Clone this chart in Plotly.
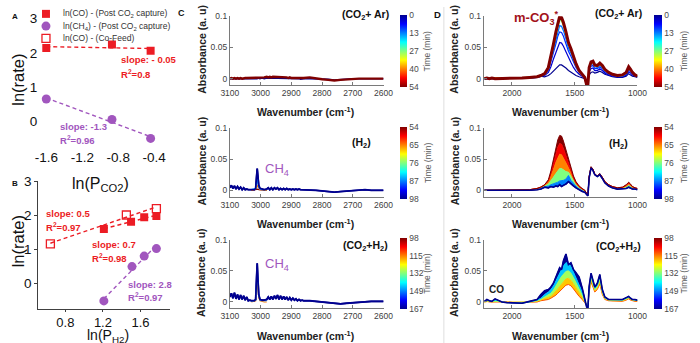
import numpy as np
import plotly.graph_objects as go
from plotly.colors import sample_colorscale

FONT = "Liberation Sans, Arial, Helvetica, sans-serif"
W, H = 700, 343
RED = "#ec1c24"
PURPLE = "#a156be"
AXC = "#7a7a7a"

# ---------------- Panel A / B data ----------------
A_X_CO = [-1.6, -0.87, -0.44]
A_Y_CO = [2.15, 2.25, 2.07]
A_X_CH4 = [-1.6, -0.87, -0.44]
A_Y_CH4 = [0.66, 0.06, -0.49]
A_XTICKS = [-1.6, -1.2, -0.8, -0.4]
A_XTICKTEXT = ["-1.6", "-1.2", "-0.8", "-0.4"]

B_X_CO = [1.21, 1.50, 1.64, 1.77]
B_Y_CO = [1.60, 1.81, 1.94, 1.98]
B_X_COFEED = [0.64, 1.45, 1.77]
B_Y_COFEED = [1.16, 2.01, 2.20]
B_X_CH4 = [1.21, 1.51, 1.64, 1.77]
B_Y_CH4 = [-0.52, 0.49, 0.80, 1.02]
B_XTICKS = [0.8, 1.2, 1.6]
RATE_TICKS = [0, 1, 2, 3]

# ---------------- Panel C data (3100-2600 cm-1) ----------------
W_C = [3100, 3095, 3090, 3085, 3080, 3075, 3070, 3065, 3060, 3055, 3050, 3045, 3040, 3035, 3030, 3025, 3020,
       3016, 3013, 3011, 3009, 3006, 3002, 2996, 2988, 2980,
       2975, 2970, 2965, 2960, 2955, 2950, 2945, 2940, 2935, 2930, 2925, 2920, 2915, 2910, 2905, 2900,
       2895, 2890, 2885, 2880, 2875, 2870, 2865, 2860,
       2840, 2820, 2800, 2780, 2760, 2740, 2720, 2700, 2680, 2660, 2640, 2620, 2600]
W_CP = [3030, 3020, 3016, 3013, 3011, 3009, 3006, 3002, 2996, 2988, 2980]

# (CO2 + Ar), t = 0 and 54 min
CT_0 = [0.000, 0.000, -0.001, 0.000, 0.000, -0.001, 0.000, 0.000, -0.001, 0.000, 0.000, 0.000, -0.001, 0.000, 0.000, 0.000, 0.000,
        0.000, 0.000, 0.000, 0.001, 0.000, 0.000, 0.001, 0.000, 0.001,
        0.001, 0.001, 0.000, 0.001, 0.001, 0.000, 0.001, 0.001, 0.000, 0.001, 0.000, 0.001, 0.000, 0.000, 0.001, 0.000,
        0.000, 0.000, 0.000, 0.000, 0.000, -0.001, 0.000, 0.000,
        0.000, 0.000, -0.001, -0.001, -0.002, -0.001, -0.001, 0.000, 0.000, 0.000, -0.001, 0.000, 0.000]
CT_54 = [0.000, 0.001, 0.000, 0.001, 0.000, 0.001, 0.000, 0.001, 0.000, 0.001, 0.001, 0.001, 0.001, 0.001, 0.001, 0.001, 0.002,
         0.001, 0.002, 0.001, 0.002, 0.002, 0.002, 0.002, 0.002, 0.003,
         0.002, 0.003, 0.002, 0.003, 0.003, 0.002, 0.003, 0.002, 0.003, 0.002, 0.002, 0.002, 0.002, 0.001, 0.002, 0.001,
         0.001, 0.001, 0.001, 0.001, 0.001, 0.000, 0.001, 0.001,
         0.002, 0.000, -0.001, -0.002, -0.003, -0.002, -0.001, 0.000, 0.000, 0.000, 0.000, 0.000, 0.000]

# (H2), t = 98 min full range, earlier times around the CH4 band
CM_98 = [0.004, 0.008, 0.003, 0.007, 0.002, 0.006, 0.002, 0.005, 0.001, 0.004, 0.001, 0.002, 0.001, 0.001, 0.001, 0.001, 0.001,
         0.003, 0.020, 0.035, 0.024, 0.008, 0.003, 0.002, 0.001, 0.002,
         0.004, 0.001, 0.004, 0.001, 0.004, 0.002, 0.004, 0.001, 0.003, 0.001, 0.003, 0.001, 0.003, 0.001, 0.002, 0.001,
         0.002, 0.001, 0.002, 0.001, 0.002, 0.001, 0.001, 0.001,
         0.001, 0.000, -0.001, -0.002, -0.003, -0.002, -0.001, 0.000, 0.000, 0.001, 0.000, 0.000, 0.000]
CM_54 = [0.000, 0.001, 0.001, 0.002, 0.002, 0.002, 0.001, 0.001, 0.000, 0.000, 0.000]
CM_65 = [0.000, 0.001, 0.002, 0.005, 0.008, 0.006, 0.003, 0.001, 0.001, 0.000, 0.000]
CM_87 = [0.001, 0.002, 0.003, 0.012, 0.020, 0.014, 0.005, 0.002, 0.001, 0.001, 0.001]

# (CO2 + H2), t = 167 min full range, earlier times around the CH4 band
CB_167 = [0.008, 0.014, 0.006, 0.015, 0.005, 0.012, 0.004, 0.011, 0.004, 0.010, 0.003, 0.008, 0.002, 0.003, 0.002, 0.002, 0.002,
          0.004, 0.035, 0.062, 0.040, 0.012, 0.004, 0.003, 0.003, 0.004,
          0.008, 0.004, 0.009, 0.004, 0.010, 0.005, 0.011, 0.004, 0.010, 0.004, 0.009, 0.004, 0.008, 0.003, 0.007, 0.003,
          0.006, 0.003, 0.005, 0.002, 0.004, 0.002, 0.003, 0.002,
          0.002, 0.001, 0.000, -0.002, -0.003, -0.003, -0.002, -0.001, 0.000, 0.001, 0.001, 0.001, 0.001]
CB_115 = [0.000, 0.001, 0.002, 0.020, 0.040, 0.026, 0.007, 0.002, 0.001, 0.000, 0.000]
CB_149 = [0.001, 0.002, 0.003, 0.028, 0.053, 0.035, 0.010, 0.003, 0.002, 0.002, 0.002]

C_XTICKS = [3100, 3000, 2900, 2800, 2700, 2600]

# ---------------- Panel D data (2225-1000 cm-1) ----------------
W_D = [2220, 2200, 2180, 2160, 2135, 2110, 2080, 2040, 1980, 1920, 1860,
       1800, 1770, 1740, 1710, 1690, 1670, 1650, 1635, 1620, 1605, 1590, 1570, 1550, 1530, 1510, 1490, 1465, 1440, 1420,
       1405, 1395, 1385, 1370, 1355, 1340, 1320, 1300, 1280, 1260, 1230, 1200, 1160, 1120, 1090, 1070, 1055, 1040, 1020, 1000]

# (CO2 + Ar): times 0, 4, 9, 13, 27, 40, 54 min
DT_0 = [0.000, 0.000, 0.000, 0.000, 0.000, 0.000, 0.000, 0.000, 0.000, 0.000, 0.001,
        0.002, 0.004, 0.003, 0.005, 0.008, 0.012, 0.017, 0.020, 0.022, 0.022, 0.020, 0.017, 0.013, 0.010, 0.007, 0.005, 0.003, 0.002, 0.000,
        -0.003, -0.002, 0.006, 0.010, 0.011, 0.009, 0.010, 0.012, 0.010, 0.007, 0.005, 0.003, 0.002, 0.002, 0.004, 0.008, 0.006, 0.004, 0.003, 0.002]
DT_4 = [0.000, 0.000, 0.000, 0.000, 0.000, 0.000, 0.000, 0.000, 0.000, 0.000, 0.001,
        0.002, 0.004, 0.005, 0.010, 0.019, 0.031, 0.043, 0.052, 0.058, 0.057, 0.052, 0.043, 0.033, 0.026, 0.018, 0.012, 0.007, 0.003, 0.001,
        -0.006, -0.004, 0.011, 0.016, 0.017, 0.013, 0.013, 0.016, 0.013, 0.009, 0.006, 0.004, 0.003, 0.003, 0.006, 0.011, 0.009, 0.006, 0.004, 0.003]
DT_9 = [0.000, 0.000, 0.000, 0.000, 0.000, 0.000, 0.000, 0.000, 0.000, 0.001, 0.001,
        0.002, 0.004, 0.006, 0.013, 0.026, 0.041, 0.056, 0.068, 0.075, 0.074, 0.068, 0.056, 0.044, 0.036, 0.026, 0.018, 0.010, 0.005, 0.001,
        -0.007, -0.006, 0.013, 0.020, 0.021, 0.016, 0.016, 0.019, 0.016, 0.011, 0.008, 0.005, 0.004, 0.004, 0.007, 0.014, 0.011, 0.008, 0.005, 0.003]
DT_13 = [0.000, 0.001, 0.000, 0.000, 0.000, 0.000, 0.000, 0.000, 0.000, 0.001, 0.001,
         0.003, 0.004, 0.007, 0.015, 0.030, 0.047, 0.064, 0.077, 0.085, 0.084, 0.077, 0.064, 0.049, 0.041, 0.030, 0.020, 0.011, 0.005, 0.002,
         -0.008, -0.007, 0.015, 0.023, 0.024, 0.019, 0.018, 0.021, 0.018, 0.013, 0.009, 0.006, 0.004, 0.005, 0.008, 0.016, 0.013, 0.009, 0.005, 0.003]
DT_27 = [0.000, 0.001, 0.000, 0.000, 0.001, 0.000, 0.000, 0.001, 0.000, 0.001, 0.002,
         0.003, 0.005, 0.008, 0.017, 0.033, 0.052, 0.070, 0.085, 0.094, 0.092, 0.085, 0.071, 0.055, 0.045, 0.033, 0.023, 0.012, 0.006, 0.002,
         -0.009, -0.008, 0.017, 0.025, 0.026, 0.021, 0.020, 0.023, 0.020, 0.014, 0.010, 0.007, 0.005, 0.005, 0.009, 0.018, 0.014, 0.009, 0.006, 0.004]
DT_40 = [0.001, 0.001, 0.000, 0.001, 0.000, 0.001, 0.000, 0.001, 0.001, 0.001, 0.002,
         0.003, 0.005, 0.008, 0.017, 0.034, 0.054, 0.073, 0.088, 0.098, 0.096, 0.088, 0.073, 0.057, 0.047, 0.034, 0.023, 0.012, 0.006, 0.002,
         -0.010, -0.008, 0.017, 0.026, 0.027, 0.021, 0.020, 0.024, 0.020, 0.014, 0.010, 0.007, 0.005, 0.006, 0.010, 0.018, 0.014, 0.010, 0.006, 0.004]
DT_54 = [0.000, 0.001, 0.000, 0.001, 0.000, 0.000, 0.001, 0.001, 0.000, 0.001, 0.002,
         0.003, 0.005, 0.008, 0.018, 0.035, 0.055, 0.075, 0.090, 0.100, 0.098, 0.090, 0.075, 0.058, 0.048, 0.035, 0.024, 0.013, 0.006, 0.002,
         -0.010, -0.009, 0.018, 0.027, 0.028, 0.022, 0.021, 0.025, 0.021, 0.015, 0.010, 0.007, 0.005, 0.006, 0.010, 0.019, 0.015, 0.010, 0.006, 0.004]

# (H2): times 98, 87, 76, 65, 59, 54 min
DM_98 = [0.000, 0.000, 0.000, 0.000, 0.000, 0.000, 0.000, 0.000, -0.001, 0.000, 0.000,
         0.001, 0.002, 0.005, 0.004, 0.006, 0.005, 0.007, 0.006, 0.009, 0.006, 0.008, 0.010, 0.014, 0.010, 0.007, 0.004, 0.001, -0.002, -0.003,
         -0.006, -0.009, 0.020, 0.036, 0.032, 0.025, 0.022, 0.025, 0.019, 0.012, 0.007, 0.004, 0.002, 0.002, 0.003, 0.005, 0.004, 0.002, 0.002, 0.001]
DM_87 = [0.000, 0.000, 0.000, 0.000, 0.000, 0.000, 0.000, 0.000, 0.000, 0.000, 0.001,
         0.002, 0.003, 0.006, 0.007, 0.009, 0.010, 0.012, 0.013, 0.015, 0.015, 0.016, 0.018, 0.024, 0.016, 0.011, 0.007, 0.003, 0.000, -0.002,
         -0.006, -0.008, 0.021, 0.036, 0.033, 0.025, 0.022, 0.025, 0.020, 0.013, 0.008, 0.005, 0.003, 0.003, 0.004, 0.006, 0.005, 0.003, 0.002, 0.002]
DM_76 = [0.000, 0.000, 0.000, 0.000, 0.000, 0.000, 0.000, 0.000, 0.000, 0.001, 0.001,
         0.002, 0.004, 0.007, 0.010, 0.015, 0.021, 0.027, 0.032, 0.035, 0.035, 0.033, 0.030, 0.029, 0.022, 0.015, 0.009, 0.004, 0.001, -0.001,
         -0.006, -0.008, 0.021, 0.037, 0.033, 0.025, 0.022, 0.025, 0.020, 0.013, 0.008, 0.005, 0.003, 0.003, 0.005, 0.008, 0.006, 0.004, 0.003, 0.002]
DM_65 = [0.000, 0.000, 0.000, 0.000, 0.000, 0.000, 0.000, 0.000, 0.000, 0.001, 0.001,
         0.003, 0.005, 0.008, 0.013, 0.022, 0.033, 0.045, 0.053, 0.058, 0.057, 0.052, 0.044, 0.036, 0.027, 0.018, 0.011, 0.005, 0.002, 0.000,
         -0.005, -0.007, 0.022, 0.037, 0.034, 0.026, 0.023, 0.026, 0.021, 0.014, 0.009, 0.006, 0.004, 0.004, 0.007, 0.010, 0.008, 0.005, 0.003, 0.002]
DM_59 = [0.000, 0.000, 0.000, 0.000, 0.000, 0.000, 0.000, 0.000, 0.000, 0.001, 0.001,
         0.003, 0.005, 0.009, 0.015, 0.027, 0.042, 0.058, 0.069, 0.075, 0.074, 0.067, 0.055, 0.043, 0.031, 0.020, 0.012, 0.006, 0.002, 0.000,
         -0.005, -0.007, 0.022, 0.037, 0.034, 0.026, 0.023, 0.026, 0.021, 0.014, 0.009, 0.006, 0.004, 0.005, 0.008, 0.012, 0.009, 0.006, 0.004, 0.003]
DM_54 = [0.000, 0.000, 0.000, 0.000, 0.000, 0.001, 0.000, 0.000, 0.000, 0.001, 0.001,
         0.003, 0.005, 0.009, 0.017, 0.031, 0.049, 0.068, 0.081, 0.088, 0.087, 0.079, 0.064, 0.049, 0.035, 0.023, 0.014, 0.007, 0.003, 0.000,
         -0.005, -0.007, 0.022, 0.038, 0.034, 0.026, 0.023, 0.027, 0.021, 0.014, 0.009, 0.006, 0.004, 0.005, 0.009, 0.013, 0.010, 0.006, 0.004, 0.003]

# (CO2 + H2): times 112, 120, 130, 145, 167 min
DB_112 = [0.000, 0.001, 0.000, 0.000, 0.001, 0.000, 0.000, 0.000, -0.001, -0.001, -0.001,
          0.000, 0.002, 0.003, 0.004, 0.006, 0.008, 0.011, 0.014, 0.017, 0.020, 0.024, 0.027, 0.028, 0.026, 0.021, 0.015, 0.009, 0.004, -0.001,
          -0.006, -0.008, 0.016, 0.032, 0.024, 0.016, 0.020, 0.029, 0.012, 0.004, 0.002, 0.002, 0.001, 0.001, 0.003, 0.005, 0.003, 0.002, 0.001, 0.001]
DB_120 = [0.000, 0.001, 0.001, 0.000, 0.001, 0.001, 0.000, 0.000, -0.001, -0.001, 0.000,
          0.001, 0.003, 0.005, 0.007, 0.009, 0.013, 0.017, 0.021, 0.025, 0.029, 0.033, 0.037, 0.038, 0.035, 0.029, 0.022, 0.015, 0.007, 0.000,
          -0.006, -0.008, 0.018, 0.035, 0.027, 0.018, 0.022, 0.032, 0.014, 0.005, 0.003, 0.002, 0.002, 0.002, 0.004, 0.006, 0.004, 0.003, 0.002, 0.002]
DB_130 = [0.000, 0.002, 0.001, 0.001, 0.002, 0.001, 0.000, -0.001, -0.001, -0.001, 0.000,
          0.002, 0.004, 0.008, 0.011, 0.014, 0.019, 0.025, 0.031, 0.036, 0.041, 0.045, 0.049, 0.050, 0.046, 0.039, 0.031, 0.022, 0.011, 0.001,
          -0.006, -0.008, 0.020, 0.038, 0.029, 0.020, 0.025, 0.036, 0.016, 0.006, 0.003, 0.003, 0.003, 0.003, 0.005, 0.007, 0.005, 0.003, 0.003, 0.002]
DB_145 = [0.001, 0.003, 0.002, 0.001, 0.004, 0.002, 0.000, -0.001, -0.002, -0.002, 0.000,
          0.003, 0.006, 0.012, 0.016, 0.020, 0.026, 0.034, 0.041, 0.048, 0.053, 0.058, 0.063, 0.062, 0.057, 0.048, 0.040, 0.030, 0.016, 0.002,
          -0.007, -0.009, 0.022, 0.042, 0.032, 0.022, 0.027, 0.040, 0.018, 0.007, 0.004, 0.004, 0.003, 0.003, 0.006, 0.008, 0.006, 0.004, 0.003, 0.003]
DB_167 = [0.001, 0.004, 0.002, 0.001, 0.005, 0.003, 0.000, -0.001, -0.002, -0.002, 0.001,
          0.004, 0.012, 0.018, 0.020, 0.024, 0.030, 0.040, 0.048, 0.055, 0.052, 0.066, 0.077, 0.060, 0.063, 0.052, 0.047, 0.040, 0.022, 0.002,
          -0.008, -0.010, 0.025, 0.046, 0.035, 0.024, 0.030, 0.044, 0.020, 0.008, 0.004, 0.004, 0.004, 0.004, 0.007, 0.009, 0.006, 0.004, 0.004, 0.003]

D_XTICKS = [2000, 1500, 1000]
ABS_TICKS = [0, 0.05, 0.1]
ABS_TICKTEXT = ["0", "0.05", "0.1"]

CB_TOP_TEXT = ["54", "40", "27", "13", "0"]        # bottom -> top
CB_MID_TEXT = ["98", "87", "76", "65", "54"]
CB_BOT_TEXT = ["167", "149", "132", "115", "98"]

for arr in [CT_0, CT_54, CM_98, CB_167]:
    assert len(arr) == len(W_C), len(arr)
for arr in [CM_54, CM_65, CM_87, CB_115, CB_149]:
    assert len(arr) == len(W_CP)
for arr in [DT_0, DT_4, DT_9, DT_13, DT_27, DT_40, DT_54, DM_98, DM_87, DM_76, DM_65, DM_59, DM_54,
            DB_112, DB_120, DB_130, DB_145, DB_167]:
    assert len(arr) == len(W_D), len(arr)

# ---------------- helpers ----------------
JET = [[0, "rgb(0,0,143)"], [0.125, "rgb(0,0,255)"], [0.375, "rgb(0,255,255)"],
       [0.625, "rgb(255,255,0)"], [0.875, "rgb(255,0,0)"], [1, "rgb(128,0,0)"]]
JET_R = [[round(1 - p, 4), c] for p, c in reversed(JET)]


def jet(pos):
    return sample_colorscale(JET, [min(max(pos, 0), 1)])[0]


def fx(px):
    return px / W


def fy(py):
    return 1 - py / H


fig = go.Figure()


def line_trace(xs, ys, ax, color, width, fill=None, dash=None):
    fig.add_trace(go.Scatter(
        x=xs, y=ys, mode="lines", xaxis="x" + ax, yaxis="y" + ax,
        line=dict(color=color, width=width, dash=dash),
        fill=fill, fillcolor=color if fill else None,
        showlegend=False, hoverinfo="skip"))


def marker_trace(xs, ys, ax, symbol, color, size, open_=False):
    fig.add_trace(go.Scatter(
        x=xs, y=ys, mode="markers", xaxis="x" + ax, yaxis="y" + ax,
        marker=dict(symbol=symbol, size=size, color=color,
                    line=dict(color=color, width=1.3 if open_ else 0)),
        showlegend=False, hoverinfo="skip"))


def fit_line(xs, ys, ax, color):
    k, b = np.polyfit(xs, ys, 1)
    x0, x1 = min(xs), max(xs)
    line_trace([x0, x1], [k * x0 + b, k * x1 + b], ax, color, 1.4, dash="4px,3px")


# ---------------- Panel A ----------------
fit_line(A_X_CO, A_Y_CO, "", RED)
fit_line(A_X_CH4, A_Y_CH4, "", PURPLE)
marker_trace(A_X_CO, A_Y_CO, "", "square", RED, 8)
marker_trace(A_X_CH4, A_Y_CH4, "", "circle", PURPLE, 9)

# ---------------- Panel B ----------------
fit_line(B_X_COFEED, B_Y_COFEED, "2", RED)
fit_line(B_X_CO, B_Y_CO, "2", RED)
fit_line(B_X_CH4, B_Y_CH4, "2", PURPLE)
marker_trace(B_X_COFEED, B_Y_COFEED, "2", "square-open", RED, 8, open_=True)
marker_trace(B_X_CO, B_Y_CO, "2", "square", RED, 8)
marker_trace(B_X_CH4, B_Y_CH4, "2", "circle", PURPLE, 9)

# legend markers on a pixel overlay axis
marker_trace([38], [7], "9", "square", RED, 8)
marker_trace([38], [19.5], "9", "circle", PURPLE, 9)
marker_trace([38], [32], "9", "square-open", RED, 8, open_=True)

# ---------------- Panel C ----------------
line_trace(W_C, CT_0, "3", jet(0), 1.5)
line_trace(W_C, CT_54, "3", jet(1), 2.4)

line_trace(W_C, CM_98, "4", jet(0), 1.8)
for ys, t in [(CM_54, 54), (CM_65, 65), (CM_87, 87)]:
    line_trace(W_CP, ys, "4", jet((98 - t) / 44), 1.2)
line_trace(W_C, CM_98, "4", jet(0), 1.6)

line_trace(W_C, CB_167, "5", jet(0), 1.8)
for ys, t in [(CB_115, 115), (CB_149, 149)]:
    line_trace(W_CP, ys, "5", jet((167 - t) / 69), 1.2)
line_trace(W_C, CB_167, "5", jet(0), 1.6)

# ---------------- Panel D ----------------
for ys, t, wd in [(DT_0, 0, 1.2), (DT_4, 4, 1.2), (DT_9, 9, 1.2), (DT_13, 13, 1.3),
                  (DT_27, 27, 1.3), (DT_40, 40, 2.0), (DT_54, 54, 3.0)]:
    line_trace(W_D, ys, "6", jet(t / 54), wd)

line_trace(W_D, DM_98, "7", jet(0), 1.2)
for ys, t in [(DM_87, 87), (DM_76, 76), (DM_65, 65), (DM_59, 59), (DM_54, 54)]:
    line_trace(W_D, ys, "7", jet((98 - t) / 44), 1.0, fill="tonexty")
line_trace(W_D, DM_98, "7", jet(0), 1.6)

line_trace(W_D, DB_112, "8", jet((167 - 112) / 69), 1.0)
for ys, t in [(DB_120, 120), (DB_130, 130), (DB_145, 145), (DB_167, 167)]:
    line_trace(W_D, ys, "8", jet((167 - t) / 69), 1.0, fill="tonexty")
line_trace(W_D, DB_167, "8", jet(0), 1.6)

# ---------------- colorbars ----------------
def colorbar(px_x, py_c, plen, thick, texts, scale):
    fig.add_trace(go.Scatter(
        x=[-100], y=[-100], mode="markers", xaxis="x9", yaxis="y9",
        marker=dict(color=[0], cmin=0, cmax=1, colorscale=scale, showscale=True, size=1,
                    colorbar=dict(x=fx(px_x), xanchor="left", xpad=0, y=fy(py_c), yanchor="middle",
                                  ypad=0, len=plen, lenmode="pixels", thickness=thick,
                                  thicknessmode="pixels", outlinewidth=0, ticks="",
                                  tickvals=[0, 0.25, 0.5, 0.75, 1], ticktext=texts,
                                  tickfont=dict(size=8.5, color="#4a4a4a", family=FONT))),
        showlegend=False, hoverinfo="skip"))


for px_x, thick in [(402, 7), (663, 8)]:
    colorbar(px_x, 45, 72, thick, CB_TOP_TEXT, JET_R)
    colorbar(px_x, 159, 72, thick, CB_MID_TEXT, JET)
    colorbar(px_x, 272, 71, thick, CB_BOT_TEXT, JET)

# ---------------- axes ----------------
layout = dict(width=W, height=H, margin=dict(l=0, r=0, t=0, b=0),
              paper_bgcolor="white", plot_bgcolor="rgba(0,0,0,0)", showlegend=False,
              font=dict(family=FONT, color="#222"))

rate_y = dict(range=[-0.75, 3], tickvals=RATE_TICKS, showgrid=False, zeroline=False,
              tickfont=dict(size=13.5, color="#111", family=FONT))
layout["xaxis"] = dict(domain=[fx(30), fx(165)], range=[-1.69, -0.23], tickvals=A_XTICKS,
                       ticktext=A_XTICKTEXT, showgrid=False, zeroline=False, showline=False,
                       ticks="", tickfont=dict(size=13.5, color="#111", family=FONT), anchor="y")
layout["yaxis"] = dict(domain=[fy(143.25), fy(12)], showline=False, ticks="", anchor="x", **rate_y)
layout["xaxis2"] = dict(domain=[fx(30), fx(165)], range=[0.51, 1.91], tickvals=B_XTICKS,
                        ticktext=["0.8", "1.2", "1.6"], showgrid=False, zeroline=False,
                        showline=True, linecolor="#404040", linewidth=1, ticks="outside",
                        ticklen=2, tickcolor="#404040",
                        tickfont=dict(size=13, color="#111", family=FONT), anchor="y2")
layout["yaxis2"] = dict(domain=[fy(308), fy(178)], showline=True, linecolor="#404040",
                        linewidth=1, ticks="outside", ticklen=3, tickcolor="#404040",
                        anchor="x2", **rate_y)

spec_tick = dict(size=8.5, color="#404040", family=FONT)
rows = [(9.5, 79.5), (123.5, 193.5), (237.5, 307.5)]
for i, (top, bot) in enumerate(rows):
    cx, dx = str(3 + i), str(6 + i)
    layout["xaxis" + cx] = dict(domain=[fx(227), fx(385)], range=[3100, 2600], tickvals=C_XTICKS,
                               ticktext=[str(v) for v in C_XTICKS], anchor="y" + cx)
    layout["xaxis" + dx] = dict(domain=[fx(488), fx(646)], range=[2225, 1000], tickvals=D_XTICKS,
                               ticktext=[str(v) for v in D_XTICKS], anchor="y" + dx)
    for a in (cx, dx):
        layout["xaxis" + a].update(showgrid=False, zeroline=False, showline=True, linecolor=AXC,
                                  linewidth=1, ticks="inside", ticklen=3, tickcolor=AXC,
                                  tickfont=spec_tick)
        layout["yaxis" + a] = dict(domain=[fy(bot), fy(top)], range=[-0.01, 0.1],
                                  tickvals=ABS_TICKS, ticktext=ABS_TICKTEXT, showgrid=False,
                                  zeroline=False, showline=True, linecolor=AXC, linewidth=1,
                                  ticks="inside", ticklen=3, tickcolor=AXC, tickfont=spec_tick,
                                  anchor="x" + a)

layout["xaxis9"] = dict(domain=[0, 1], range=[0, W], visible=False, anchor="y9", fixedrange=True)
layout["yaxis9"] = dict(domain=[0, 1], range=[H, 0], visible=False, anchor="x9", fixedrange=True)
fig.update_layout(**layout)

# ---------------- text ----------------
def ann(text, x, y, size, color="#111", bold=False, xanchor="center", angle=0):
    if bold:
        text = "<b>" + text + "</b>"
    fig.add_annotation(text=text, x=fx(x), y=fy(y), xref="paper", yref="paper", showarrow=False,
                       font=dict(size=size, color=color, family=FONT), xanchor=xanchor,
                       yanchor="middle", textangle=angle)


ann("A", 6, 10, 8, bold=True)
ann("B", 6, 180, 8, bold=True)
ann("C", 177, 6, 9, bold=True)
ann("D", 440, 8, 9.5, bold=True)

ann("ln(CO) - (Post CO<sub>2</sub> capture)", 53, 7, 8.5, "#333", xanchor="left")
ann("ln(CH<sub>4</sub>) - (Post CO<sub>2</sub> capture)", 53, 19.5, 8.5, "#333", xanchor="left")
ann("ln(CO) - (Co-Feed)", 53, 32, 8.5, "#333", xanchor="left")

ann("slope: - 0.05", 113, 54, 9.5, RED, True, "left")
ann("R<sup>2</sup>=0.8", 113, 68, 9.5, RED, True, "left")
ann("slope: -1.3", 50, 122, 9.5, PURPLE, True, "left")
ann("R<sup>2</sup>=0.96", 50, 136, 9.5, PURPLE, True, "left")
ann("ln(rate)", 9.5, 74, 16.5, angle=-90)
ann("ln(P<sub>CO2</sub>)", 94, 181, 16)

ann("slope: 0.5", 36, 211, 9.5, RED, True, "left")
ann("R<sup>2</sup>=0.97", 36, 225, 9.5, RED, True, "left")
ann("slope: 0.7", 83, 242, 9.5, RED, True, "left")
ann("R<sup>2</sup>=0.98", 83, 256, 9.5, RED, True, "left")
ann("slope: 2.8", 120, 283, 9.5, PURPLE, True, "left")
ann("R<sup>2</sup>=0.97", 120, 296, 9.5, PURPLE, True, "left")
ann("ln(rate)", 9.5, 239, 16.5, angle=-90)
ann("ln(P<sub>H2</sub>)", 102, 335.5, 14)

for yc, yw in [(43, 107), (157, 221), (271, 335)]:
    ann("Absorbance (a. u)", 198, yc, 10.5, "#222", True, angle=-90)
    ann("Absorbance (a. u)", 458, yc, 10.5, "#222", True, angle=-90)
    ann("Wavenumber (cm<sup>-1</sup>)", 305, yw, 10.5, "#222", True)
    ann("Wavenumber (cm<sup>-1</sup>)", 567, yw, 10.5, "#222", True)

for yc in [45, 159, 272]:
    ann("Time (min)", 430, yc, 8.5, "#5a5a5a", angle=-90)
    ann("Time (min)", 694, yc, 8.5, "#5a5a5a", angle=-90)

ann("(CO<sub>2</sub>+ Ar)", 366, 8, 10.5, "#111", True)
ann("(H<sub>2</sub>)", 362, 139, 10.5, "#111", True)
ann("(CO<sub>2</sub>+H<sub>2</sub>)", 366, 244, 10.5, "#111", True)
ann("(CO<sub>2</sub>+ Ar)", 626, 7, 10.5, "#111", True)
ann("(H<sub>2</sub>)", 626, 140, 10.5, "#111", True)
ann("(CO<sub>2</sub>+H<sub>2</sub>)", 626, 245, 10.5, "#111", True)

ann("CH<sub>4</sub>", 261, 166, 13, PURPLE, xanchor="left")
ann("CH<sub>4</sub>", 261, 263, 13, PURPLE, xanchor="left")
ann("m-CO<sub>3</sub><sup>*</sup>", 542, 11, 13, "#a3121a", True)
ann("CO", 501, 288, 10, "#222", True)

fig.add_shape(type="line", xref="paper", yref="paper", x0=fx(447), x1=fx(447), y0=0, y1=1,
              line=dict(color="#dedede", width=1))

fig.write_html("out.html", config={"displayModeBar": False})
